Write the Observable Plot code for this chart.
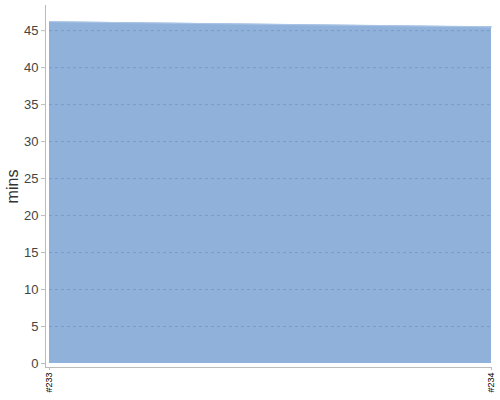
<!DOCTYPE html>
<html>
<head>
<meta charset="utf-8">
<script src="https://cdn.jsdelivr.net/npm/d3@7"></script>
<script src="https://cdn.jsdelivr.net/npm/@observablehq/plot@0.6"></script>
<style>
  html, body { margin: 0; padding: 0; background: #fff; }
  #chart { width: 500px; height: 400px; }
</style>
</head>
<body>
<div id="chart"></div>
<script>
const builds = ["#233", "#234"];
const mins = [46.2, 45.5];
const yTicks = [0, 5, 10, 15, 20, 25, 30, 35, 40, 45];
const yLabel = "mins";

const data = builds.map((b, i) => ({build: b, mins: mins[i]}));

const chart = Plot.plot({
  width: 500,
  height: 400,
  marginTop: 5,
  marginLeft: 45,
  marginRight: 9,
  marginBottom: 33,
  style: {fontFamily: "Liberation Sans, Arial, sans-serif", background: "#fff"},
  x: {type: "point", domain: builds, insetLeft: 4, padding: 0},
  y: {domain: [0, 48.4], insetBottom: 4},
  marks: [
    Plot.areaY(data, {x: "build", y: "mins", fill: "#8fb1da"}),
    Plot.lineY(data, {x: "build", y: "mins", stroke: "#aac4e5", strokeWidth: 1.2}),
    Plot.gridY(yTicks.filter(d => d > 0), {stroke: "#4a6a9c", strokeOpacity: 0.3, strokeDasharray: "3,3", strokeWidth: 1, insetLeft: 4}),
    Plot.frame({anchor: "left", stroke: "#bbb"}),
    Plot.frame({anchor: "bottom", stroke: "#bbb"}),
    Plot.axisY(yTicks, {
      tickSize: 4, tickPadding: 3, fontSize: 13, color: "#444", stroke: "#bbb",
      label: yLabel, labelAnchor: "center", labelArrow: "none", labelOffset: 39
    }),
    Plot.axisX(builds, {
      tickSize: 3, tickPadding: 2, fontSize: 9, tickRotate: -90, color: "#000", stroke: "#bbb", label: null
    })
  ]
});
document.getElementById("chart").appendChild(chart);
d3.select(chart).selectAll("[aria-label='y-axis label'] text").attr("font-size", 16).attr("fill", "#333");
</script>
</body>
</html>
